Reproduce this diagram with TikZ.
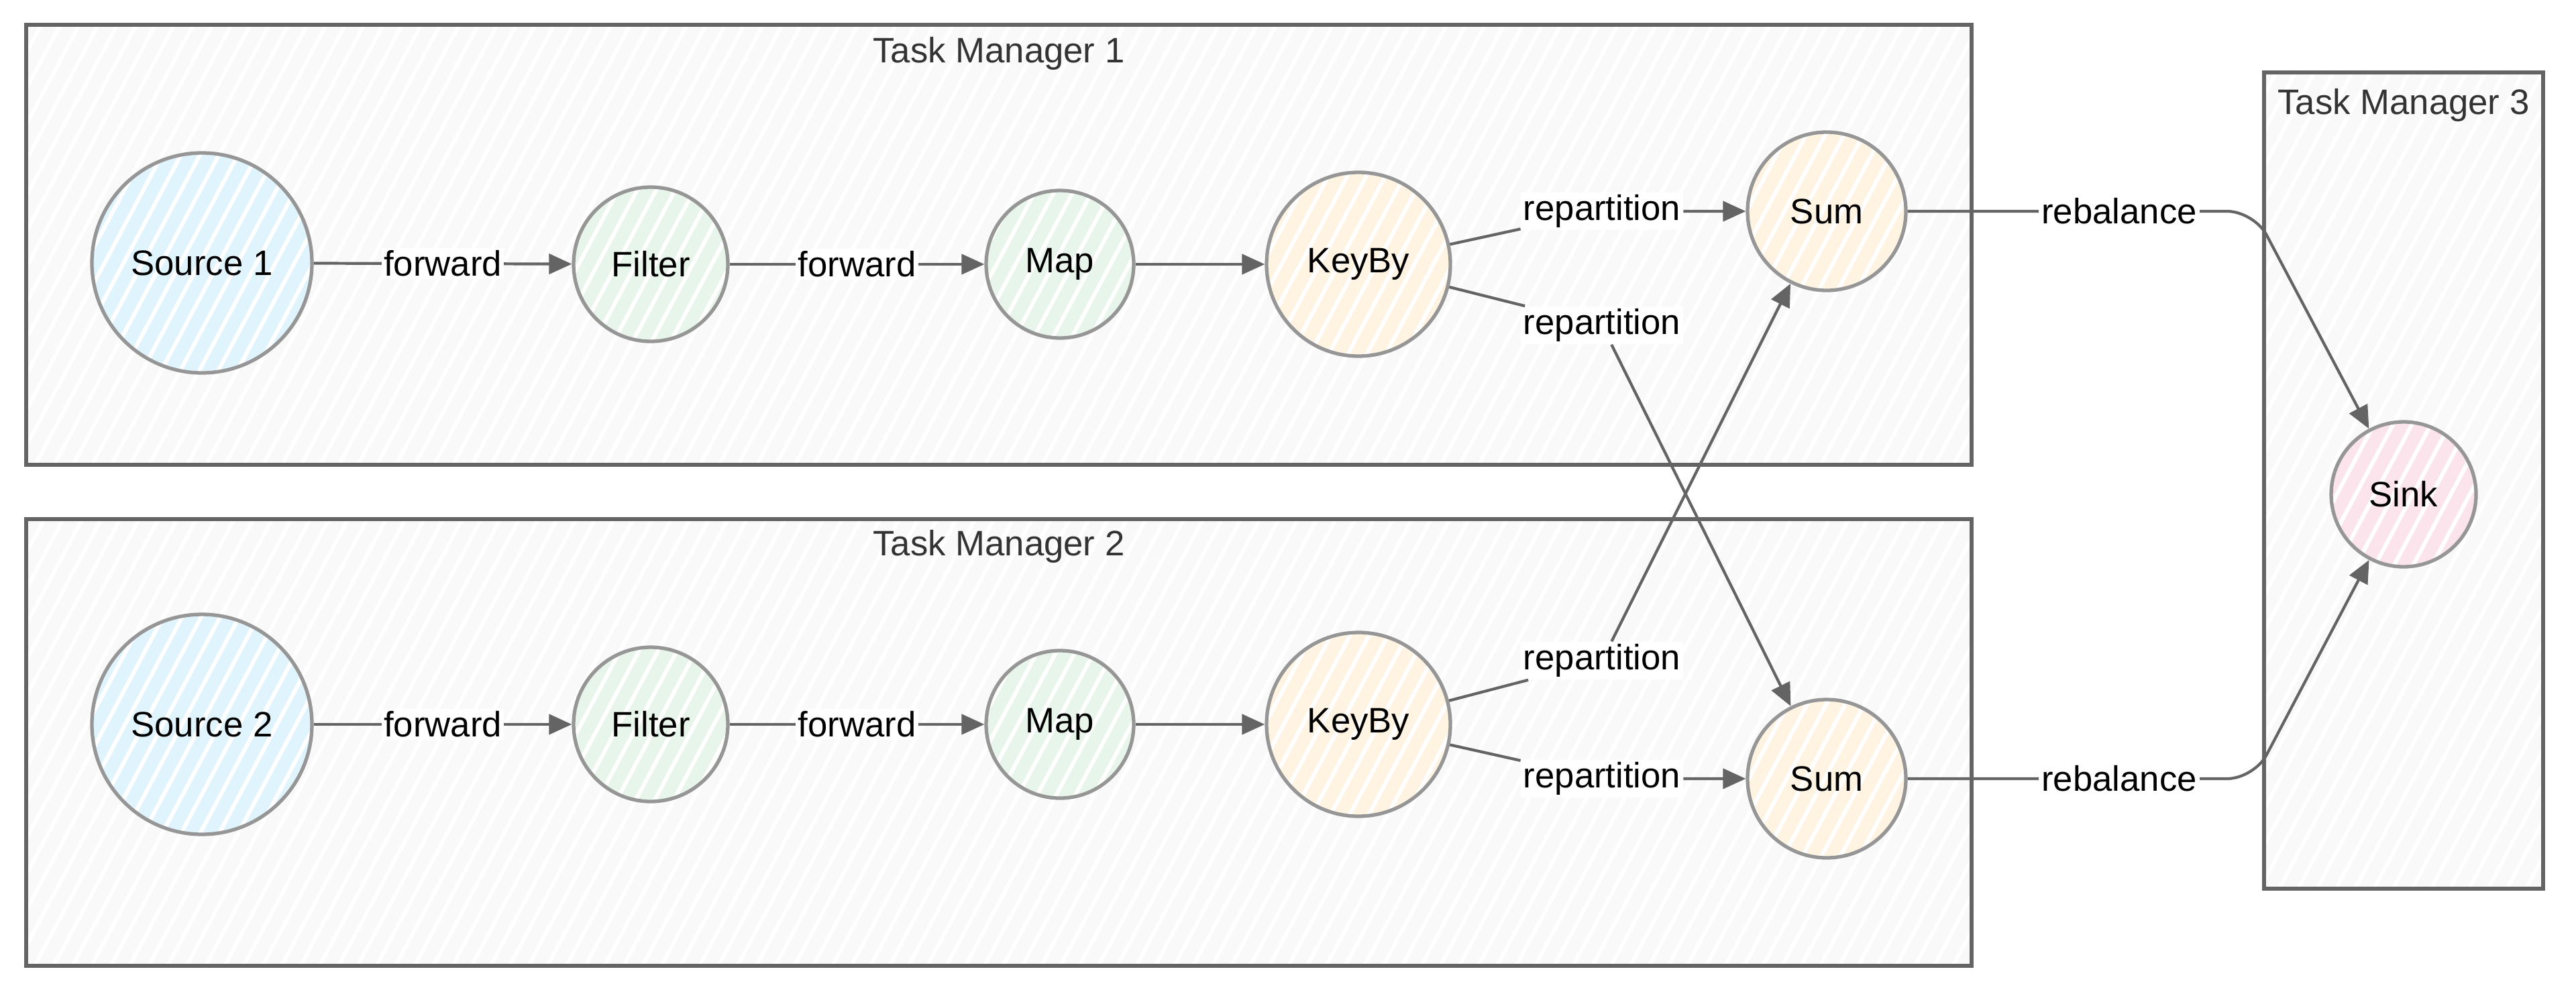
\documentclass[tikz,border=0pt]{standalone}
\usepackage{fontspec}
\setmainfont{Liberation Sans}
\usetikzlibrary{shapes.geometric, arrows.meta, positioning, patterns.meta}
\definecolor{boxline}{RGB}{100,100,100}
\definecolor{boxfill}{RGB}{249,249,249}
\definecolor{boxtitle}{RGB}{51,51,51}
\definecolor{nodeline}{RGB}{150,150,150}
\definecolor{edgeline}{RGB}{100,100,100}
\definecolor{srcfill}{RGB}{224,244,253}
\definecolor{opfill}{RGB}{232,245,234}
\definecolor{keyfill}{RGB}{255,243,226}
\definecolor{sinkfill}{RGB}{252,228,236}

\begin{document}
\begin{tikzpicture}[font=\fontsize{15}{18}\selectfont]
\tikzstyle{hatch} = [pattern={Lines[angle=62,distance=0.25cm,line width=0.06cm]}, pattern color=white]
\tikzstyle{manager} = [draw=boxline, line width=1.6pt, preaction={fill=boxfill}, preaction={hatch}]
\tikzstyle{op} = [circle, draw=nodeline, line width=1.5pt, inner sep=0pt, text=black]
\tikzstyle{lbl} = [fill=white, inner sep=1pt, text=black]
\tikzstyle{line} = [draw=edgeline, line width=1.2pt, -{Triangle[length=0.34cm,width=0.3cm]}]
\useasboundingbox (0,0) rectangle (38.4,-14.84);

    % Task managers
    \path [manager] (0.39,-0.37) rectangle (29.39,-6.93);
    \path [manager] (0.39,-7.74) rectangle (29.39,-14.40);
    \path [manager] (33.75,-1.08) rectangle (37.91,-13.25);
    \node [text=boxtitle] (tm1) at (14.89,-0.80) {Task Manager 1};
    \node [text=boxtitle] (tm2) at (14.89,-8.15) {Task Manager 2};
    \node [text=boxtitle] (tm3) at (35.83,-1.57) {Task Manager 3};

    % Place nodes
    \node [op, minimum size=3.28cm, preaction={fill=srcfill}, preaction={hatch}] (src1) at (3.01,-3.92) {Source 1};
    \node [op, minimum size=2.30cm, preaction={fill=opfill}, preaction={hatch}] (flt1) at (9.70,-3.94) {Filter};
    \node [op, minimum size=2.20cm, preaction={fill=opfill}, preaction={hatch}] (map1) at (15.80,-3.94) {Map};
    \node [op, minimum size=2.74cm, preaction={fill=keyfill}, preaction={hatch}] (key1) at (20.25,-3.94) {KeyBy};
    \node [op, minimum size=2.36cm, preaction={fill=keyfill}, preaction={hatch}] (sum1) at (27.23,-3.15) {Sum};

    \node [op, minimum size=3.28cm, preaction={fill=srcfill}, preaction={hatch}] (src2) at (3.01,-10.80) {Source 2};
    \node [op, minimum size=2.30cm, preaction={fill=opfill}, preaction={hatch}] (flt2) at (9.70,-10.80) {Filter};
    \node [op, minimum size=2.20cm, preaction={fill=opfill}, preaction={hatch}] (map2) at (15.80,-10.80) {Map};
    \node [op, minimum size=2.74cm, preaction={fill=keyfill}, preaction={hatch}] (key2) at (20.25,-10.80) {KeyBy};
    \node [op, minimum size=2.36cm, preaction={fill=keyfill}, preaction={hatch}] (sum2) at (27.23,-11.61) {Sum};

    \node [op, minimum size=2.16cm, preaction={fill=sinkfill}, preaction={hatch}] (sink) at (35.83,-7.37) {Sink};

    % edge labels
    \node [lbl] (rp1a) at (23.88,-3.15) {repartition};
    \node [lbl] (rp1b) at (23.88,-4.85) {repartition};
    \node [lbl] (rp2a) at (23.88,-9.85) {repartition};
    \node [lbl] (rp2b) at (23.88,-11.61) {repartition};
    \node [lbl] (rb1) at (31.59,-3.15) {rebalance};
    \node [lbl] (rb2) at (31.59,-11.61) {rebalance};
    \coordinate (bend1) at (33.60,-3.15);
    \coordinate (bend2) at (33.60,-11.61);

%paths
    \path [line] (src1) -- node [lbl] {forward} (flt1);
    \path [line] (flt1) -- node [lbl] {forward} (map1);
    \path [line] (map1) -- (key1);
    \path [line] (src2) -- node [lbl] {forward} (flt2);
    \path [line] (flt2) -- node [lbl] {forward} (map2);
    \path [line] (map2) -- (key2);

    \path [line] (key1) -- (rp1a) -- (sum1);
    \path [line] (key1) -- (rp1b) -- (sum2);
    \path [line] (key2) -- (rp2a) -- (sum1);
    \path [line] (key2) -- (rp2b) -- (sum2);

    \path [line, rounded corners=0.4cm] (sum1) -- (rb1) -- (bend1) -- (sink);
    \path [line, rounded corners=0.4cm] (sum2) -- (rb2) -- (bend2) -- (sink);

\end{tikzpicture}
\end{document}
